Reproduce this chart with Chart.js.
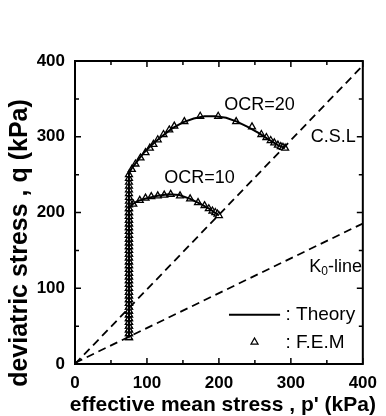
<!DOCTYPE html>
<html><head><meta charset="utf-8">
<script src="https://cdn.jsdelivr.net/npm/chart.js@4.4.1/dist/chart.umd.min.js"></script>
<style>html,body{margin:0;padding:0;background:#fff}#wrap{width:386px;height:416px}</style>
</head><body><div id="wrap"><canvas id="c" width="386" height="416"></canvas></div>
<script>
// Axis ticks
const xTicks = [0, 100, 200, 300, 400];
const yTicks = [0, 100, 200, 300, 400];

// Reference lines
const cslP = [0, 400];
const cslQ = [0, 394];
const k0P = [0, 400];
const k0Q = [1.5, 185.5];

// Theory, OCR=20
const theory20P = [75, 75, 80, 85, 90, 95, 100, 110, 120, 135, 150, 165, 180, 195, 210, 225, 240, 255, 270, 282, 292];
const theory20Q = [35, 252, 260, 266, 272, 278, 283, 292, 300, 311, 319, 324, 327, 327, 325, 320, 313, 305, 296, 289, 285];
// Theory, OCR=10
const theory10P = [75, 75, 80, 85, 90, 100, 115, 130, 145, 160, 175, 188, 200];
const theory10Q = [35, 206, 211, 214, 216, 219, 222, 224, 223, 218, 211, 204, 196];

// F.E.M, OCR=20
const fem20P = [75,75,75,75,75,75,75,75,75,75,75,75,75,75,75,75,75,75,75,75,75,75,75,75,75,75,75,75,75,75,75,75,75,75,75,75,75,75,75,75,75,75,75,75,
  79, 84, 91, 98, 104, 109, 115, 123, 131, 138, 152, 174, 199, 224, 246, 259, 266, 272, 277, 282, 286, 289, 292];
const fem20Q = [35,40,45,50,55,60,65,70,75,80,85,90,95,100,105,110,115,120,125,130,135,140,145,150,155,160,165,170,175,180,185,190,195,200,205,210,215,220,225,230,235,240,245,250,
  257, 264, 272, 279, 285, 290, 296, 303, 309, 314, 320, 327, 327, 320, 313, 303, 299, 295, 292, 289, 287, 286, 285];
// F.E.M, OCR=10
const fem10P = [75,75,75,75,75,75,75,75,75,75,75,75,75,75,75,75,75,75,75,75,75,75,75,75,75,75,75,75,75,75,75,75,75,75,75,
  81, 90, 98, 106, 115, 124, 133, 146, 160, 171, 180, 186, 191, 195, 198, 200];
const fem10Q = [35,40,45,50,55,60,65,70,75,80,85,90,95,100,105,110,115,120,125,130,135,140,145,150,155,160,165,170,175,180,185,190,195,200,205,
  211, 216, 219, 221, 222, 223, 224, 222, 218, 213, 209, 205, 202, 200, 198, 196];

const pts = (P, Q) => P.map((p, i) => ({x: p, y: Q[i]}));
const FONT = '"Liberation Sans", Arial, sans-serif';

const frame = {
  id: 'frame',
  afterDatasetsDraw(chart) {
    const {ctx, chartArea: a, scales: {x, y}} = chart;
    ctx.save();
    ctx.strokeStyle = '#000';
    ctx.lineWidth = 2;
    ctx.strokeRect(a.left, a.top, a.right - a.left, a.bottom - a.top);
    ctx.lineWidth = 1.5;
    for (let v = 0; v <= 400; v += 50) {
      const len = v % 100 === 0 ? 6 : 4;
      const px = x.getPixelForValue(v), py = y.getPixelForValue(v);
      ctx.beginPath();
      ctx.moveTo(px, a.bottom); ctx.lineTo(px, a.bottom - len);
      ctx.moveTo(px, a.top); ctx.lineTo(px, a.top + len);
      ctx.moveTo(a.left, py); ctx.lineTo(a.left + len, py);
      ctx.moveTo(a.right, py); ctx.lineTo(a.right - len, py);
      ctx.stroke();
    }
    // annotations
    ctx.fillStyle = '#000';
    ctx.textBaseline = 'middle';
    ctx.textAlign = 'left';
    ctx.font = '18px ' + FONT;
    ctx.fillText('OCR=20', x.getPixelForValue(207.5), y.getPixelForValue(342));
    ctx.fillText('OCR=10', x.getPixelForValue(124), y.getPixelForValue(245.5));
    ctx.fillText('C.S.L', x.getPixelForValue(327.5), y.getPixelForValue(300));
    // K0-line
    let kx = x.getPixelForValue(325.5), ky = y.getPixelForValue(128.5);
    ctx.fillText('K', kx, ky);
    let w = ctx.measureText('K').width;
    ctx.font = '12px ' + FONT;
    ctx.fillText('0', kx + w, ky + 5);
    let w2 = ctx.measureText('0').width;
    ctx.font = '18px ' + FONT;
    ctx.fillText('-line', kx + w + w2, ky);
    // legend
    ctx.lineWidth = 2;
    ctx.beginPath();
    ctx.moveTo(x.getPixelForValue(214), y.getPixelForValue(65));
    ctx.lineTo(x.getPixelForValue(285), y.getPixelForValue(65));
    ctx.stroke();
    ctx.font = '19px ' + FONT;
    ctx.fillText(': Theory', x.getPixelForValue(292.5), y.getPixelForValue(65));
    ctx.fillText(': F.E.M', x.getPixelForValue(292.5), y.getPixelForValue(28));
    ctx.save();
    ctx.fillStyle = '#fff';
    ctx.lineWidth = 1.3;
    Chart.helpers.drawPoint(ctx, {pointStyle: 'triangle', radius: 4, rotation: 0, borderWidth: 1.3},
      x.getPixelForValue(249.5), y.getPixelForValue(29));
    ctx.restore();
    // axis titles
    ctx.fillStyle = '#000';
    ctx.font = 'bold 21px ' + FONT;
    ctx.textAlign = 'center';
    ctx.textBaseline = 'alphabetic';
    ctx.fillText("effective mean stress , p' (kPa)", (a.left + a.right) / 2 + 4, 411);
    ctx.save();
    ctx.translate(20, 243);
    ctx.rotate(-Math.PI / 2);
    ctx.textBaseline = 'middle';
    ctx.font = 'bold 25px ' + FONT;
    ctx.fillText('deviatric stress , q (kPa)', 0, 0);
    ctx.restore();
    ctx.restore();
  }
};

const tickFont = {family: FONT, size: 17, weight: 'bold'};
new Chart(document.getElementById('c').getContext('2d'), {
  type: 'scatter',
  data: {datasets: [
    {data: pts(cslP, cslQ), showLine: true, borderColor: '#000', borderWidth: 1.8, borderDash: [8, 5], pointRadius: 0},
    {data: pts(k0P, k0Q), showLine: true, borderColor: '#000', borderWidth: 1.8, borderDash: [8, 5], pointRadius: 0},
    {data: pts(theory20P, theory20Q), showLine: true, borderColor: '#000', borderWidth: 2, pointRadius: 0, tension: 0},
    {data: pts(theory10P, theory10Q), showLine: true, borderColor: '#000', borderWidth: 2, pointRadius: 0, tension: 0},
    {data: pts(fem20P, fem20Q), showLine: false, pointStyle: 'triangle', pointRadius: 4, borderColor: '#000', backgroundColor: '#fff', borderWidth: 1.3},
    {data: pts(fem10P, fem10Q), showLine: false, pointStyle: 'triangle', pointRadius: 4, borderColor: '#000', backgroundColor: '#fff', borderWidth: 1.3}
  ]},
  options: {
    responsive: false, animation: false, devicePixelRatio: 1,
    layout: {padding: {top: 61, right: 16, left: 0, bottom: 0}},
    plugins: {legend: {display: false}, tooltip: {enabled: false}},
    scales: {
      x: {type: 'linear', min: 0, max: 400,
        afterBuildTicks(s) { s.ticks = xTicks.map(v => ({value: v})); },
        ticks: {font: tickFont, color: '#000', padding: 9, maxRotation: 0},
        grid: {display: false, drawTicks: false}, border: {display: false},
        afterFit(s) { s.height = 52; }},
      y: {type: 'linear', min: 0, max: 400,
        afterBuildTicks(s) { s.ticks = yTicks.map(v => ({value: v})); },
        ticks: {font: tickFont, color: '#000', padding: 10},
        grid: {display: false, drawTicks: false}, border: {display: false},
        afterFit(s) { s.width = 75; }}
    }
  },
  plugins: [frame]
});
</script>
</body></html>
